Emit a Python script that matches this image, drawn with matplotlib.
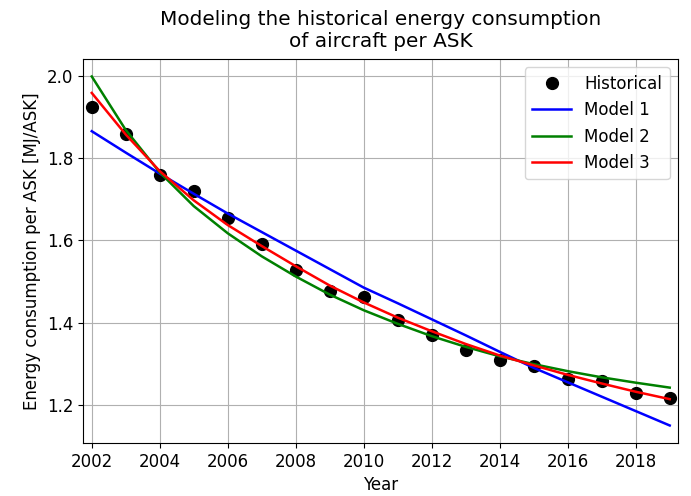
import numpy as np
import matplotlib
matplotlib.use("Agg")
import matplotlib.pyplot as plt

plt.rcParams['font.size'] = 12

# Данные
years = np.arange(2002, 2020)
historical = [1.925, 1.858, 1.759, 1.720, 1.655, 1.592, 1.527, 1.476, 1.462,
              1.407, 1.371, 1.334, 1.310, 1.295, 1.264, 1.258, 1.228, 1.217]
model1 = [1.865, 1.813, 1.762, 1.713, 1.665, 1.620, 1.575, 1.530, 1.485,
          1.447, 1.408, 1.369, 1.329, 1.290, 1.255, 1.220, 1.185, 1.150]
model2 = [1.998, 1.868, 1.765, 1.683, 1.617, 1.561, 1.512, 1.468, 1.430,
          1.397, 1.367, 1.341, 1.318, 1.299, 1.282, 1.267, 1.254, 1.242]
model3 = [1.958, 1.857, 1.768, 1.697, 1.637, 1.586, 1.537, 1.490, 1.449,
          1.412, 1.379, 1.348, 1.320, 1.296, 1.273, 1.252, 1.232, 1.214]
xticks = list(range(2002, 2019, 2))

fig = plt.figure(figsize=(6.91, 4.96), dpi=100)
ax = fig.add_axes([0.120, 0.107, 0.861, 0.774])

ax.plot(years, historical, 'ko', markersize=8.5, label='Historical')
ax.plot(years, model1, color='b', linewidth=1.8, label='Model 1')
ax.plot(years, model2, color='g', linewidth=1.8, label='Model 2')
ax.plot(years, model3, color='r', linewidth=1.8, label='Model 3')

ax.set_xlim(2001.74, 2019.24)
ax.set_xticks(xticks)
ax.set_title('Modeling the historical energy consumption\nof aircraft per ASK', pad=8.5)
ax.set_xlabel('Year')
ax.set_ylabel('Energy consumption per ASK [MJ/ASK]')
ax.legend(loc='upper right', handlelength=2.3, borderpad=0.45)
ax.grid(True)

fig.savefig('out.png', dpi=100)
